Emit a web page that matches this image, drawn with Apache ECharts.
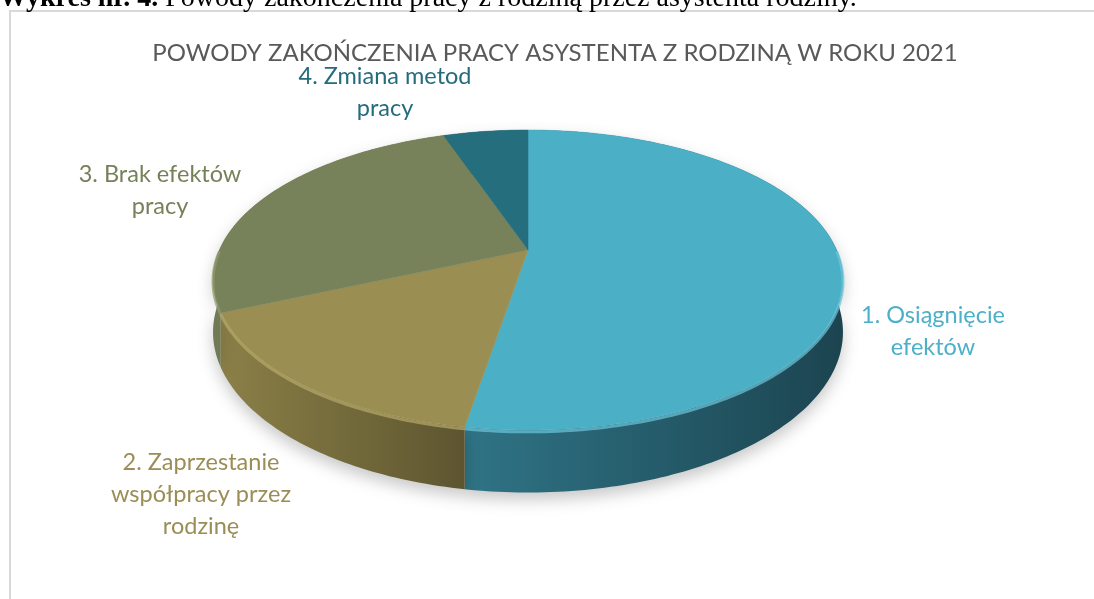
<!DOCTYPE html>
<html>
<head>
<meta charset="utf-8">
<script src="https://cdn.jsdelivr.net/npm/echarts@6/dist/echarts.min.js"></script>
<style>
html,body{margin:0;padding:0;background:#fff;}
#chart{width:1094px;height:599px;}
</style>
</head>
<body>
<div id="chart"></div>
<script>
// ---- data ----
const categories = ['1. Osiągnięcie\nefektów', '2. Zaprzestanie\nwspółpracy przez\nrodzinę', '3. Brak efektów\npracy', '4. Zmiana metod\npracy'];
const values = [10, 3, 5, 1];
const titleText = 'POWODY ZAKOŃCZENIA PRACY ASYSTENTA Z RODZINĄ W ROKU 2021';
const captionBold = 'Wykres nr. 4.';
const captionText = ' Powody zakończenia pracy z rodziną przez asystenta rodziny.';

// ---- styles / layout ----
const topColors = ['#4bafc6', '#9a8e52', '#78825a', '#246e7d'];
const rimColors = ['#6cc6da', '#b7aa6a', '#8f9a6c', '#3a8394'];
const wallGrad = [['#2f7486', '#1c4450'], ['#8b8047', '#5d5530'], ['#717955', '#646b48'], ['#1f5c69', '#1a4d58']];
const labelColors = ['#4bb0c8', '#9a8d55', '#76815a', '#246b7c'];
const labelPos = [[933, 331], [201, 494], [160, 190], [385, 92]];
const CX = 528, CY = 250, A = 308.6, B = 144, K = 0.2, D = 50;

const total = values.reduce((a, b) => a + b, 0);
function startAngle(i) {
  let s = 0;
  for (let j = 0; j < i; j++) s += values[j];
  return s / total * Math.PI * 2;
}
function proj(t, depth) {
  const u = Math.sin(t), v = -Math.cos(t);
  const s = 1 / (1 - K * v);
  return [CX + A * u * s, CY + B * v * s + depth * s];
}
function arc(a, b, depth) {
  const pts = [];
  const n = Math.max(2, Math.ceil((b - a) / (Math.PI / 180)));
  for (let k = 0; k <= n; k++) pts.push(proj(a + (b - a) * k / n, depth));
  return pts;
}

const chart = echarts.init(document.getElementById('chart'));
chart.setOption({
  animation: false,
  backgroundColor: '#ffffff',
  title: {
    text: titleText,
    left: 550,
    textAlign: 'center',
    top: 36,
    textStyle: { fontFamily: 'Lato', fontSize: 24, fontWeight: 'normal', color: '#595959' }
  },
  graphic: [
    {
      type: 'rect', shape: { x: 10, y: 11, width: 1100, height: 600 },
      style: { fill: 'none', stroke: '#d9d9d9', lineWidth: 2 }, z: 0
    },
    {
      type: 'text', x: -1, y: -15,
      style: {
        text: '{b|' + captionBold + '}{n|' + captionText + '}',
        rich: {
          b: { fontFamily: 'Liberation Serif', fontSize: 28, fontWeight: 'bold', fill: '#000' },
          n: { fontFamily: 'Liberation Serif', fontSize: 28, fill: '#000' }
        }
      }
    }
  ],
  series: [
    {
      type: 'custom',
      name: 'walls',
      coordinateSystem: 'none',
      z: 1,
      data: values,
      renderItem: function (params, api) {
        const i = params.dataIndex;
        const a = startAngle(i);
        const b = a + api.value(0) / total * Math.PI * 2;
        const top = arc(a, b, 0);
        const bot = arc(a, b, D).reverse();
        return {
          type: 'polygon',
          shape: { points: top.concat(bot) },
          style: {
            fill: new echarts.graphic.LinearGradient(0, 0, 1, 0, [
              { offset: 0, color: wallGrad[i][0] },
              { offset: 1, color: wallGrad[i][1] }
            ]),
            shadowBlur: 16, shadowColor: 'rgba(0,0,0,0.22)', shadowOffsetY: 7
          }
        };
      }
    },
    {
      type: 'custom',
      name: 'tops',
      coordinateSystem: 'none',
      z: 2,
      data: values,
      renderItem: function (params, api) {
        const i = params.dataIndex;
        const a = startAngle(i);
        const b = a + api.value(0) / total * Math.PI * 2;
        const rim = arc(a, b, 0);
        const center = [CX, CY];
        const children = [
          {
            type: 'polygon',
            shape: { points: [center].concat(rim) },
            style: { fill: topColors[i], stroke: topColors[i], lineWidth: 0.5 }
          }
        ];
        const ha = Math.max(a, Math.PI / 2), hb = Math.min(b, Math.PI * 1.5);
        if (hb > ha) {
          children.push({
            type: 'polyline',
            shape: { points: arc(ha, hb, 1.5) },
            style: { fill: null, stroke: rimColors[i], lineWidth: 3, opacity: 0.7 }
          });
        }
        children.push({
          type: 'text',
          x: labelPos[i][0], y: labelPos[i][1],
          style: {
            text: categories[i],
            fill: labelColors[i],
            fontFamily: 'Lato', fontSize: 23.5,
            align: 'center', verticalAlign: 'middle',
            lineHeight: 32
          }
        });
        return { type: 'group', children: children };
      }
    }
  ]
});
</script>
</body>
</html>
